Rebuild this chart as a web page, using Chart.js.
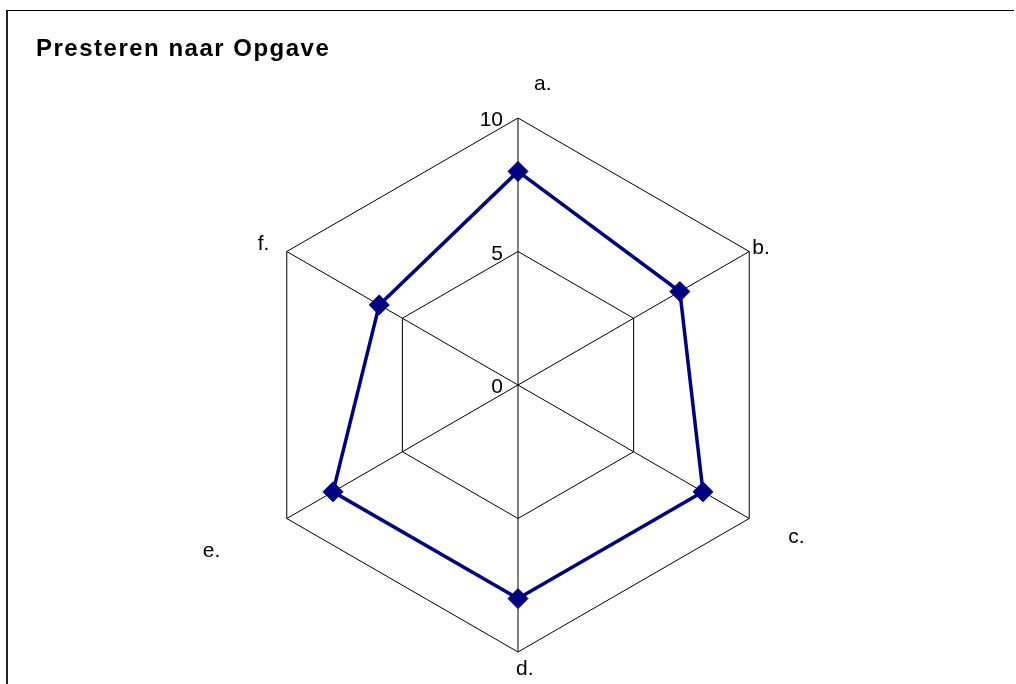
<!DOCTYPE html>
<html>
<head>
<meta charset="utf-8">
<title>Presteren naar Opgave</title>
<script src="https://cdn.jsdelivr.net/npm/chart.js@4/dist/chart.umd.min.js"></script>
<style>
  html, body { margin: 0; padding: 0; background: #fff; }
  body { width: 1016px; height: 684px; overflow: hidden; position: relative; }
  .frame {
    position: absolute; left: 6px; top: 10px; right: 2px; bottom: -10px;
    border-top: 1px solid #000; border-left: 2px solid #222;
  }
  #radar { position: absolute; left: 0; top: 0; width: 1016px; height: 684px; }
</style>
</head>
<body>
<div class="frame"></div>
<canvas id="radar" width="1016" height="684"></canvas>
<script>
(function () {
  'use strict';

  var opgaven = ['a.', 'b.', 'c.', 'd.', 'e.', 'f.'];
  var scores = [8, 7, 8, 8, 8, 6];
  var schaal = [0, 5, 10];

  var FONT = '"Liberation Sans", Arial, sans-serif';

  // label offsets (x, baseline) from each outer corner of the web
  var labelOffsets = [
    [16, -28],
    [3, 2],
    [39, 24],
    [-2, 23],
    [-84, 38],
    [-29, -2],
  ];

  var textPlugin = {
    id: 'opgaveText',
    beforeDraw: function (chart) {
      // title is drawn slightly spaced out
      chart.ctx.letterSpacing = '1.5px';
    },
    afterDraw: function (chart) {
      var scale = chart.scales.r;
      var ctx = chart.ctx;
      ctx.letterSpacing = '0px';
      ctx.save();
      ctx.fillStyle = '#000';
      ctx.font = '21px ' + FONT;
      ctx.textBaseline = 'alphabetic';
      ctx.textAlign = 'left';
      opgaven.forEach(function (name, i) {
        var p = scale.getPointPosition(i, scale.drawingArea);
        ctx.fillText(name, p.x + labelOffsets[i][0], p.y + labelOffsets[i][1]);
      });
      ctx.textAlign = 'right';
      schaal.forEach(function (v) {
        var d = scale.getDistanceFromCenterForValue(v);
        ctx.fillText(String(v), scale.xCenter - 15, scale.yCenter - d + 8);
      });
      ctx.restore();
    },
  };

  new Chart(document.getElementById('radar').getContext('2d'), {
    type: 'radar',
    data: {
      labels: opgaven,
      datasets: [
        {
          data: scores,
          borderColor: '#000080',
          borderWidth: 3.5,
          fill: false,
          backgroundColor: 'transparent',
          pointStyle: 'rectRot',
          pointRadius: 10,
          pointBackgroundColor: '#000080',
          pointBorderColor: '#000080',
          pointBorderWidth: 1,
        },
      ],
    },
    options: {
      responsive: false,
      animation: false,
      layout: { padding: { left: 36, right: 16, top: 0, bottom: 32 } },
      plugins: {
        legend: { display: false },
        tooltip: { enabled: false },
        title: {
          display: true,
          text: 'Presteren naar Opgave',
          align: 'start',
          color: '#000',
          font: { family: FONT, size: 24, weight: 'bold', lineHeight: 1.2 },
          padding: { top: 35, bottom: 54.2 },
        },
      },
      scales: {
        r: {
          min: 0,
          max: 10,
          ticks: { stepSize: 5, display: false },
          grid: { color: '#000', lineWidth: 1 },
          angleLines: { color: '#000', lineWidth: 1 },
          pointLabels: { display: false },
        },
      },
    },
    plugins: [textPlugin],
  });
})();
</script>
</body>
</html>
